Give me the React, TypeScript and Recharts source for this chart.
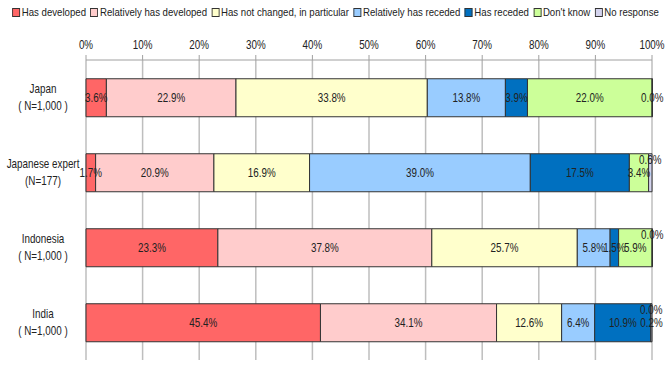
import React from "react";
import {
  BarChart,
  Bar,
  XAxis,
  YAxis,
  CartesianGrid,
  Legend,
  LabelList,
} from "recharts";

const categories = [
  "Japan\n( N=1,000 )",
  "Japanese expert\n(N=177)",
  "Indonesia\n( N=1,000 )",
  "India\n( N=1,000 )",
];

const seriesNames = [
  "Has developed",
  "Relatively has developed",
  "Has not changed, in particular",
  "Relatively has receded",
  "Has receded",
  "Don't know",
  "No response",
];

const seriesColors = ["#FF6666", "#FFCCCC", "#FFFFCC", "#99CCFF", "#0070C0", "#CCFF99", "#D4D4EE"];

// one array per category, in series order
const japan = [3.6, 22.9, 33.8, 13.8, 3.9, 22.0, 0.0];
const japaneseExpert = [1.7, 20.9, 16.9, 39.0, 17.5, 3.4, 0.6];
const indonesia = [23.3, 37.8, 25.7, 5.8, 1.5, 5.9, 0.0];
const india = [45.4, 34.1, 12.6, 6.4, 10.9, 0.0, 0.2];

const xTicks = [0, 0.1, 0.2, 0.3, 0.4, 0.5, 0.6, 0.7, 0.8, 0.9, 1];

const FONT = "'Liberation Sans', Arial, sans-serif";
const SQUEEZE = 0.82; // the original uses a narrow face
const PLOT_W = 566;

const rows = [japan, japaneseExpert, indonesia, india];
const data = categories.map((name, i) => {
  const row: Record<string, any> = { name };
  seriesNames.forEach((s, j) => {
    row["s" + j] = rows[i][j];
  });
  return row;
});

const fmt = (v: number) => `${v.toFixed(1)}%`;

// lift labels of tiny segments that would collide with a neighbour's label
function labelShifts(row: number[]): number[] {
  const total = row.reduce((a, b) => a + b, 0);
  let cum = 0;
  const centers = row.map((v) => {
    const c = ((cum + v / 2) / total) * PLOT_W;
    cum += v;
    return c;
  });
  const widths = row.map((v) => fmt(v).length * 5.3);
  const hits = (a: number, b: number) => Math.abs(centers[a] - centers[b]) < (widths[a] + widths[b]) / 2;
  const shifts: number[] = [];
  row.forEach((v, j) => {
    let s = 0;
    if (v < 1) {
      const prev = j > 0 && shifts[j - 1] === 0 && hits(j, j - 1);
      const next = j < row.length - 1 && hits(j, j + 1);
      if (prev || next) s = -13;
    }
    shifts.push(s);
  });
  return shifts;
}
const shifts = rows.map(labelShifts);

function NText({ x, y, children, anchor = "middle", baseline = "central" }: any) {
  return (
    <text
      transform={`translate(${x},${y}) scale(${SQUEEZE},1)`}
      x={0}
      y={0}
      textAnchor={anchor}
      dominantBaseline={baseline}
      fontSize={12}
      fontFamily={FONT}
      fill="#222"
    >
      {children}
    </text>
  );
}

function CategoryTick({ y, payload }: any) {
  const lines = String(payload.value).split("\n");
  return (
    <g>
      {lines.map((l, i) => (
        <NText key={i} x={43} y={y - 9 + i * 17}>
          {l}
        </NText>
      ))}
    </g>
  );
}

function PercentTick({ x, y, payload }: any) {
  return (
    <NText x={x} y={y} baseline="auto">
      {`${Math.round(payload.value * 100)}%`}
    </NText>
  );
}

function SegmentLabel({ x, y, width, height, value, index, series }: any) {
  if (value == null) return null;
  const dy = shifts[index]?.[series] ?? 0;
  return (
    <NText x={x + width / 2} y={y + height / 2 + dy}>
      {fmt(Number(value))}
    </NText>
  );
}

function TopLegend() {
  return (
    <div style={{ display: "flex", justifyContent: "center", width: 670 }}>
      <div
        style={{
          display: "inline-flex",
          gap: 5,
          fontFamily: FONT,
          fontSize: 11,
          color: "#222",
          whiteSpace: "nowrap",
          transform: "scaleX(0.875)",
          transformOrigin: "center",
        }}
      >
        {seriesNames.map((s, i) => (
          <span key={s} style={{ display: "inline-flex", alignItems: "center" }}>
            <span
              style={{
                display: "inline-block",
                width: 7,
                height: 7,
                background: seriesColors[i],
                border: "1px solid #333",
                marginRight: 2,
              }}
            />
            {s}
          </span>
        ))}
      </div>
    </div>
  );
}

export default function App() {
  return (
    <div style={{ position: "absolute", left: 0, top: 0, width: 670, height: 365, background: "#fff" }}>
      <BarChart
        width={670}
        height={365}
        data={data}
        layout="vertical"
        stackOffset="expand"
        barCategoryGap="25%"
        margin={{ top: 30, right: 18, bottom: 5, left: 0 }}
      >
        <CartesianGrid horizontal={false} stroke="#BEBEBE" strokeWidth={1.5} />
        <XAxis
          type="number"
          orientation="top"
          domain={[0, 1]}
          ticks={xTicks}
          tick={<PercentTick />}
          stroke="#A0A0A0"
          tickSize={5}
          tickMargin={6}
          height={30}
        />
        <YAxis
          type="category"
          dataKey="name"
          width={86}
          axisLine={false}
          tickLine={false}
          tick={<CategoryTick />}
          interval={0}
        />
        <Legend
          verticalAlign="middle"
          align="center"
          layout="horizontal"
          wrapperStyle={{ top: 6, left: 0, width: 670 }}
          content={<TopLegend />}
        />
        {seriesNames.map((s, j) => (
          <Bar
            key={s}
            dataKey={"s" + j}
            name={s}
            stackId="a"
            fill={seriesColors[j]}
            stroke="#333"
            strokeWidth={1}
            minPointSize={0.5}
            isAnimationActive={false}
          >
            <LabelList dataKey={"s" + j} content={<SegmentLabel series={j} />} />
          </Bar>
        ))}
      </BarChart>
    </div>
  );
}
